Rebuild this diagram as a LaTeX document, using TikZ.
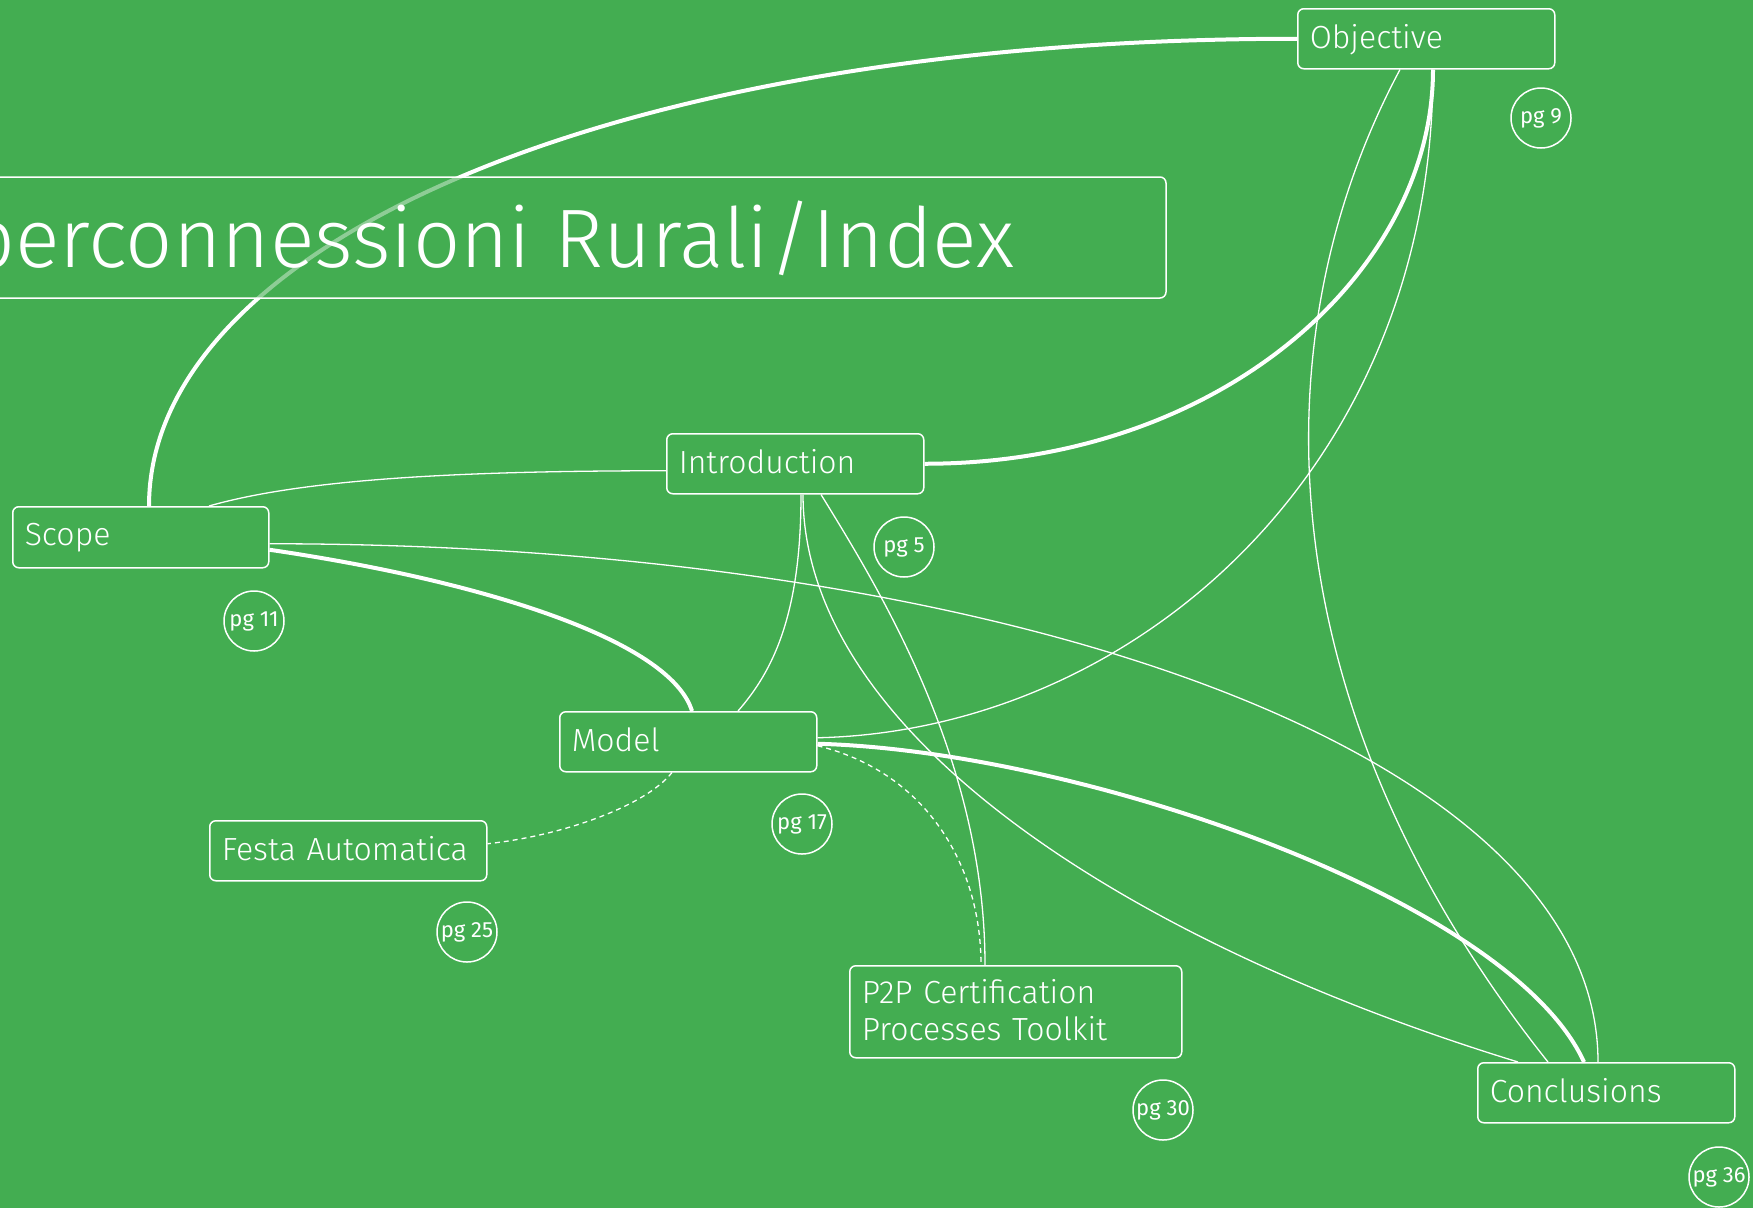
\documentclass[tikz,border=0pt]{standalone}
\usepackage{fontspec}
\setmainfont{Fira Sans}
\newfontfamily\lightfont{Fira Sans Light}
\usetikzlibrary{calc}
\definecolor{leaf}{RGB}{67,173,81}

\begin{document}
\begin{tikzpicture}[x=1pt,y=-1pt,
  topic/.style={draw=white, line width=1.5pt, rounded corners=6pt, fill=leaf,
    text=white, font=\lightfont\fontsize{32}{37}\selectfont,
    inner xsep=12pt, inner ysep=0pt, align=left,
    text height=40pt, text depth=20pt, anchor=north west},
  page/.style={circle, draw=white, line width=1.5pt, minimum size=60pt,
    inner sep=0pt, text=white, font=\fontsize{22}{24}\selectfont},
  strong/.style={draw=white, line width=4pt},
  fine/.style={draw=white, line width=1.3pt},
  hint/.style={draw=white, line width=1.3pt, dash pattern=on 5pt off 4pt}
]
\useasboundingbox (0,0) rectangle (1753,1208);
\fill[leaf] (0,0) rectangle (1753,1208);
\clip (0,0) rectangle (1753,1208);

% topics
\node[topic, text width=233pt] (objective) at (1297,8) {Objective};
\node[topic, text width=233pt] (intro) at (666,433) {Introduction};
\node[topic, text width=232pt, text height=39pt, text depth=22pt] (scope) at (12,506) {Scope};
\node[topic, text width=233pt] (model) at (559,711) {Model};
\node[topic, text width=253pt] (festa) at (209,820) {Festa Automatica};
\node[topic, text width=308pt, text height=38pt, text depth=54pt] (p2p) at (849,965) {P2P Certification\\Processes Toolkit};
\node[topic, text width=233pt] (concl) at (1477,1062) {Conclusions};

% page markers
\node[page] (pg9)  at (1541,118)  {pg 9};
\node[page] (pg5)  at (904,547)   {pg 5};
\node[page] (pg11) at (254,621)   {pg 11};
\node[page] (pg17) at (802,824)   {pg 17};
\node[page] (pg25) at (467,932)   {pg 25};
\node[page] (pg30) at (1163,1110) {pg 30};
\node[page] (pg36) at (1719,1177) {pg 36};

% links
\draw[strong] ([xshift=137pt]scope.north west) .. controls +(0,-256) and +(-697,0) .. (objective.west);
\draw[strong] (intro.east) .. controls +(297,0) and +(0,202) .. ([xshift=136pt]objective.south west);
\draw[fine] ([yshift=-7pt]intro.west) .. controls +(-216,0) and +(91,-26) .. ([xshift=197pt]scope.north west);
\draw[fine] ([xshift=135pt]intro.south west) .. controls +(0,120) and +(35,-40) .. ([xshift=179pt]model.north west);
\draw[fine] ([xshift=137pt]intro.south west) .. controls +(0,236) and +(-398,-122) .. ([xshift=41pt]concl.north west);
\draw[fine] ([xshift=155pt]intro.south west) .. controls +(59,96) and +(0,-205) .. ([xshift=136pt]p2p.north west);
\draw[fine] ([yshift=-6.5pt]scope.east) .. controls +(732,0) and +(0,-312) .. ([xshift=121pt]concl.north west);
\draw[strong] ([yshift=-12.5pt]scope.east) .. controls +(212,31) and +(-22,-71) .. ([xshift=133pt]model.north west);
\draw[fine] ([xshift=103pt]objective.south west) .. controls +(-140,262) and +(-288,-362) .. ([xshift=71pt]concl.north west);
\draw[fine] ([xshift=136pt]objective.south west) .. controls +(0,402) and +(314,-7) .. ([yshift=4pt]model.east);
\draw[strong] ([yshift=-2pt]model.east) .. controls +(264,7) and +(-74,-162) .. ([xshift=107pt]concl.north west);
\draw[hint] ([xshift=113pt]model.south west) .. controls +(-27,34) and +(74,-8) .. ([yshift=7pt]festa.east);
\draw[hint] ([yshift=-4pt]model.east) .. controls +(104,25) and +(0,-105) .. ([xshift=132pt]p2p.north west);

% title banner
\path[draw=white, line width=1.5pt, rounded corners=6pt, fill=leaf, fill opacity=0.6]
  (-40,177) rectangle (1166,298);
\node[text=white, font=\lightfont\fontsize{83}{90}\selectfont, anchor=base east, inner sep=0pt]
  (title) at (1015,267) {Iperconnessioni Rurali/Index};
\end{tikzpicture}
\end{document}
